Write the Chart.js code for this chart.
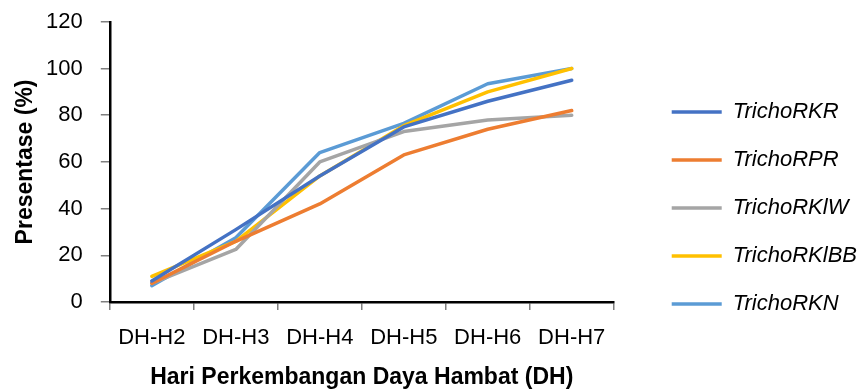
<!DOCTYPE html>
<html>
<head>
<meta charset="utf-8">
<script src="https://cdn.jsdelivr.net/npm/chart.js@4.4.1/dist/chart.umd.min.js"></script>
<style>
  html, body { margin: 0; padding: 0; background: #fff; }
  #wrap { width: 861px; height: 391px; position: relative; }
</style>
</head>
<body>
<div id="wrap"><canvas id="chart"></canvas></div>
<script>
// Categories (days of inhibition development)
const categories = ['DH-H2', 'DH-H3', 'DH-H4', 'DH-H5', 'DH-H6', 'DH-H7'];

// Inhibition percentage per isolate
const trichoRKR   = [9, 31, 54, 75, 86, 95];
const trichoRPR   = [8, 26, 42, 63, 74, 82];
const trichoRKlW  = [8, 22.5, 60, 73, 78, 80];
const trichoRKlBB = [11, 26, 54, 75.5, 90, 100];
const trichoRKN   = [7, 27.5, 64, 76.5, 93.5, 100];

const seriesNames = ['TrichoRKR', 'TrichoRPR', 'TrichoRKlW', 'TrichoRKlBB', 'TrichoRKN'];
const seriesValues = [trichoRKR, trichoRPR, trichoRKlW, trichoRKlBB, trichoRKN];
const seriesColors = ['#4472C4', '#ED7D31', '#A5A5A5', '#FFC000', '#5B9BD5'];

// Y axis range
const yMin = 0, yMax = 120, yStep = 20;

const FONT = '"Liberation Sans", Arial, sans-serif';

new Chart(document.getElementById('chart'), {
  type: 'line',
  data: {
    labels: categories,
    datasets: seriesNames.map((name, i) => ({
      label: name,
      data: seriesValues[i],
      borderColor: seriesColors[i],
      backgroundColor: seriesColors[i],
      borderWidth: 3.5,
      pointRadius: 0,
      pointHoverRadius: 0,
      tension: 0,
      fill: false,
      borderCapStyle: 'round',
      borderJoinStyle: 'round'
    }))
  },
  options: {
    responsive: true,
    maintainAspectRatio: false,
    animation: false,
    layout: { padding: { top: 2, right: -6, bottom: 0, left: 0 } },
    plugins: {
      tooltip: { enabled: false },
      legend: {
        position: 'right',
        align: 'center',
        maxWidth: 300,
        // blank title used only to push the items down a little
        title: {
          display: true,
          text: ' ',
          padding: { top: 13, bottom: 0 },
          font: { family: FONT, size: 10, lineHeight: 1 }
        },
        labels: {
          usePointStyle: true,
          pointStyle: 'line',
          pointStyleWidth: 50,
          padding: 26,
          color: '#000',
          font: { family: FONT, size: 22, style: 'italic' }
        }
      }
    },
    scales: {
      x: {
        offset: true,
        grid: {
          offset: true,
          drawOnChartArea: false,
          drawTicks: true,
          tickLength: 8,
          color: '#7f7f7f',
          lineWidth: 1.5
        },
        border: { display: true, color: '#000', width: 2.5 },
        ticks: {
          color: '#000',
          padding: 15,
          font: { family: FONT, size: 22 }
        },
        title: {
          display: true,
          text: 'Hari Perkembangan Daya Hambat (DH)',
          color: '#000',
          padding: { top: -3, bottom: 0 },
          font: { family: FONT, size: 23, weight: 'bold' }
        }
      },
      y: {
        min: yMin,
        max: yMax,
        grid: {
          drawOnChartArea: false,
          drawTicks: true,
          tickLength: 9,
          color: '#7f7f7f',
          lineWidth: 1.5
        },
        border: { display: true, color: '#000', width: 2.5 },
        ticks: {
          stepSize: yStep,
          color: '#000',
          padding: 18,
          font: { family: FONT, size: 22, lineHeight: 0.35 }
        },
        title: {
          display: true,
          text: 'Presentase (%)',
          color: '#000',
          padding: { top: 12, bottom: -11.5 },
          font: { family: FONT, size: 23, weight: 'bold' }
        }
      },
      // empty spacer axis between plot and legend
      gap: {
        axis: 'y',
        type: 'linear',
        position: 'right',
        display: true,
        grid: { display: false },
        border: { display: false },
        ticks: { display: false },
        afterFit(scale) { scale.width = 32; }
      }
    }
  }
});
</script>
</body>
</html>
